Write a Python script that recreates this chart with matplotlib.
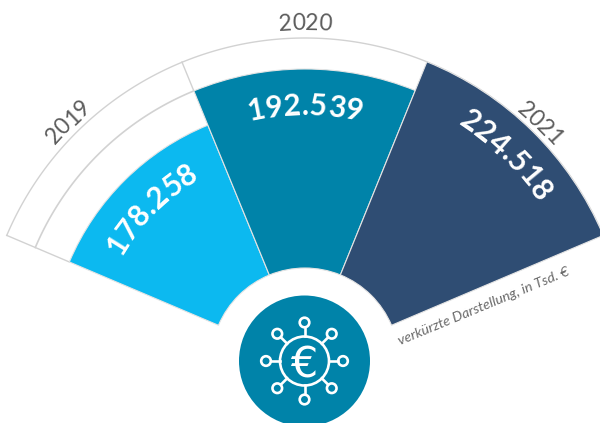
import numpy as np
import matplotlib
matplotlib.use("Agg")
import matplotlib.pyplot as plt
from matplotlib.patches import Circle
from matplotlib.textpath import TextPath
from matplotlib.font_manager import FontProperties

years = ["2019", "2020", "2021"]
values = [178258, 192539, 224518]
value_labels = ["178.258", "192.539", "224.518"]
colors = ["#0CB9F0", "#0083A9", "#2F4D73"]
note = "verkürzte Darstellung, in Tsd. €"

# truncated, non proportional radial axis of the original
scale_values = [178258, 192539, 224518]
scale_radii = [256, 293, 324]
inner = 94
edges = np.radians([157.0, 112.3, 67.9, 23.0])
W, H = 600, 423
cx, cy = 305, 362
R = 330

fig = plt.figure(figsize=(6, 4.23), dpi=100)
ax = fig.add_axes([(cx - R) / W, (H - cy - R) / H, 2 * R / W, 2 * R / H], projection="polar")
ax.set_ylim(0, R)
ax.set_axis_off()
radii = np.interp(values, scale_values, scale_radii)
widths = edges[:-1] - edges[1:]
ax.bar(edges[:-1] - widths / 2, radii - inner, widths, bottom=inner, color=colors,
       edgecolor="#e4e4e4", linewidth=0.8, zorder=3)

grey = "#d2d2d2"
for i in range(3):
    t = np.linspace(edges[i], edges[i + 1], 100)
    ax.plot(t, np.full_like(t, scale_radii[-1]), color=grey, lw=1, zorder=2)
t = np.linspace(edges[0], edges[1], 100)
ax.plot(t, np.full_like(t, scale_radii[1]), color=grey, lw=1.2, zorder=2)
for e, r0 in zip(edges[:3], radii):
    ax.plot([e, e], [r0, scale_radii[-1]], color=grey, lw=1, zorder=2)

ov = fig.add_axes([0, 0, 1, 1])
ov.set_xlim(0, W)
ov.set_ylim(H, 0)
ov.set_axis_off()
ov.patch.set_alpha(0)

def pos(radius, deg):
    a = np.radians(deg)
    return cx + radius * np.cos(a), cy - radius * np.sin(a)

def arc_text(s, radius, centre_deg, size, color, weight, family, track=0.0):
    """place characters one by one along a circle around the chart centre"""
    fp = FontProperties(family=family, weight=weight, size=size)
    adv = []
    for ch in s:
        tp = TextPath((0, 0), "0" + ch + "0", prop=fp)
        tp0 = TextPath((0, 0), "00", prop=fp)
        adv.append((tp.get_extents().width - tp0.get_extents().width) * 100 / 72 + track)
    total = sum(adv)
    cur = -total / 2
    base = radius - size * 100 / 72 * 0.36
    for ch, w in zip(s, adv):
        d = centre_deg - np.degrees((cur + w / 2) / radius)
        x, y = pos(base, d)
        ov.text(x, y, ch, rotation=d - 90, rotation_mode="anchor", ha="center", va="baseline",
                fontproperties=fp, color=color, zorder=6)
        cur += w

val_font = "Lato"
arc_text(value_labels[0], 222, 135.0, 21.5, "white", "bold", val_font, 1.0)
arc_text(value_labels[1], 258, 90.0, 21.5, "white", "bold", val_font, 1.0)
arc_text(value_labels[2], 293, 45.8, 21.5, "white", "bold", val_font, 1.0)
arc_text(years[0], 339, 134.6, 16.5, "#5c5c5c", "normal", val_font)
arc_text(years[1], 340, 90.0, 16.5, "#5c5c5c", "normal", val_font)
arc_text(years[2], 336, 45.5, 16.5, "#5c5c5c", "normal", val_font)

ov.text(484, 306, note, rotation=22.5, rotation_mode="anchor", ha="center", va="center",
        fontsize=10.3, style="italic", family="Lato", color="#6a6a6a", zorder=6)

# centre icon
ix, iy = 304.5, 361
ov.add_patch(Circle((ix, iy), 65.5, fc="#0083A9", ec="none", zorder=5))
ov.add_patch(Circle((ix, iy), 24.5, fc="none", ec="white", lw=1.9, zorder=6))
for k in range(8):
    a = k * np.pi / 4
    c, s = np.cos(a), np.sin(a)
    ov.plot([ix + 24.5 * c, ix + 33.5 * c], [iy + 24.5 * s, iy + 33.5 * s], color="white", lw=1.9, zorder=6)
    ov.add_patch(Circle((ix + 38.5 * c, iy + 38.5 * s), 4.8, fc="none", ec="white", lw=1.9, zorder=6))
ov.text(ix - 1, iy, "€", color="white", fontsize=31, family="DejaVu Sans",
        ha="center", va="center_baseline", zorder=7)

fig.savefig("out.png", dpi=100)
